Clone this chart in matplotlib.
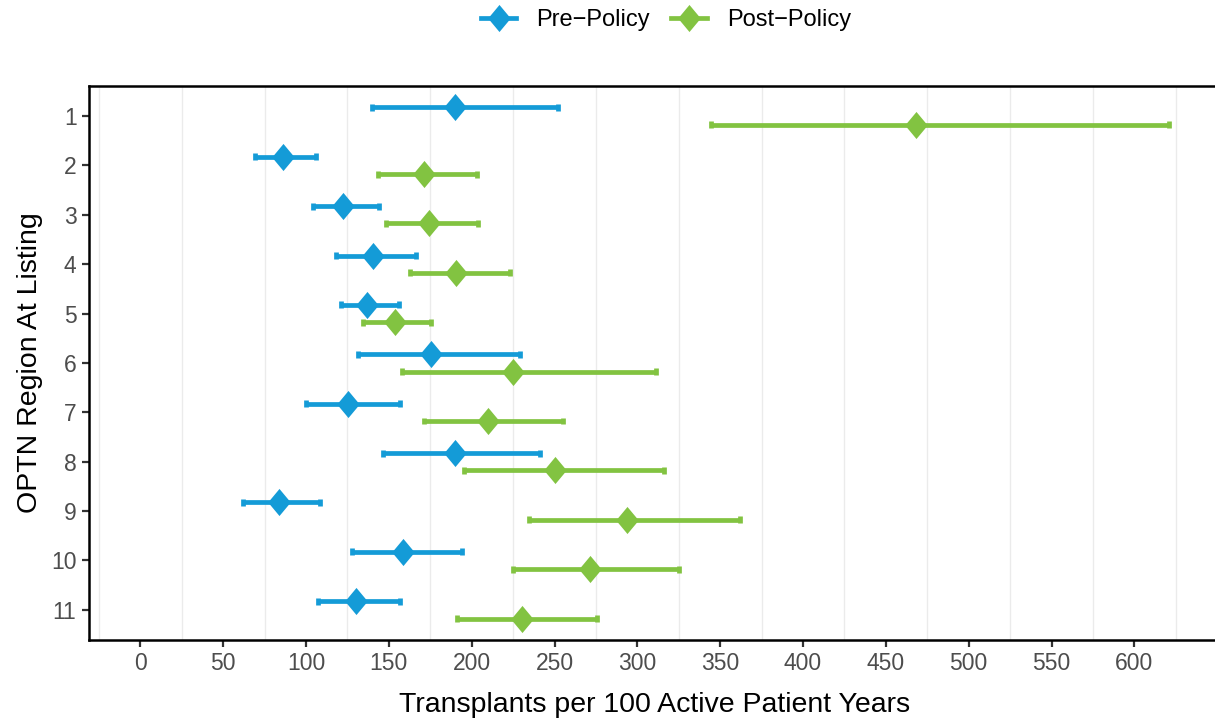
import matplotlib
matplotlib.use('Agg')
import matplotlib.pyplot as plt
import numpy as np
from matplotlib.lines import Line2D

plt.rcParams['font.family'] = ['Liberation Sans', 'DejaVu Sans']

regions = [1, 2, 3, 4, 5, 6, 7, 8, 9, 10, 11]

pre_est = [190, 86, 122.5, 140.5, 137, 175.5, 125.5, 190, 83.5, 158.5, 130]
pre_lo = [140, 69, 104, 118, 121, 131.5, 100, 146.5, 62, 128, 107.5]
pre_hi = [252, 106, 144, 166.5, 156, 229, 157, 241, 108.5, 194, 157]

post_est = [468, 171.5, 174, 190.5, 153.5, 225, 210, 250.5, 293.5, 271.5, 230.5]
post_lo = [344.5, 143.5, 148.5, 163, 134.5, 158, 171.5, 195.5, 234.5, 225, 191]
post_hi = [621, 203.5, 204, 223, 175.5, 311, 255, 316, 362, 325, 275.5]

labels = ['Pre\u2212Policy', 'Post\u2212Policy']
colors = ['#149BD7', '#82C341']
offsets = [-0.175, 0.175]

W, H = 1215, 721
fig = plt.figure(figsize=(W / 100, H / 100), dpi=100)

# panel in pixel terms (right edge runs past the figure, as in the original)
left_px, right_px, top_px, bottom_px = 89.0, 1220.5, 86.4, 639.5
ax = fig.add_axes([left_px / W, 1 - bottom_px / H,
                   (right_px - left_px) / W, (bottom_px - top_px) / H])

diamond = [(0, 1.2), (1, 0), (0, -1.2), (-1, 0), (0, 1.2)]
lw = 3.4

y = np.array(regions, dtype=float)
series = [(pre_est, pre_lo, pre_hi), (post_est, post_lo, post_hi)]
for (est, lo, hi), col, off in zip(series, colors, offsets):
    yy = y + off
    ax.hlines(yy, lo, hi, color=col, lw=lw, zorder=3)
    # short end caps
    ax.vlines(lo, yy - 0.07, yy + 0.07, color=col, lw=lw, zorder=3)
    ax.vlines(hi, yy - 0.07, yy + 0.07, color=col, lw=lw, zorder=3)
    ax.plot(est, yy, ls='none', marker=diamond, ms=19.5, color=col, mec=col, mew=0, zorder=4)

ax.set_xlim(-31, 652)
ax.set_ylim(11.6, 0.4)
ax.set_xticks(np.arange(0, 601, 50))
ax.set_xticks(np.arange(-25, 651, 50), minor=True)
ax.set_yticks(regions)
ax.set_yticklabels([str(r) for r in regions])

ax.grid(False)
ax.grid(True, which='minor', axis='x', color='#EBEBEB', lw=1.0, zorder=0)
ax.tick_params(axis='both', which='minor', length=0)
ax.tick_params(axis='both', which='major', length=5, width=1.6, color='#333333',
               labelcolor='#4D4D4D', labelsize=16.5, pad=4)
for s in ax.spines.values():
    s.set_color('black')
    s.set_linewidth(1.8)

ax.set_xlabel('Transplants per 100 Active Patient Years', fontsize=20.5, color='black', labelpad=12)
ax.set_ylabel('OPTN Region At Listing', fontsize=20.5, color='black', labelpad=6)

handles = [Line2D([0], [0], color=c, lw=lw, marker=diamond, ms=19.5, mec=c, mew=0) for c in colors]
fig.legend(handles, labels, loc='center', bbox_to_anchor=(666 / W, 1 - 20 / H), ncol=2,
           frameon=False, fontsize=17, handlelength=1.5, columnspacing=0.9, handletextpad=0.85)

fig.savefig('out.png', dpi=100)
